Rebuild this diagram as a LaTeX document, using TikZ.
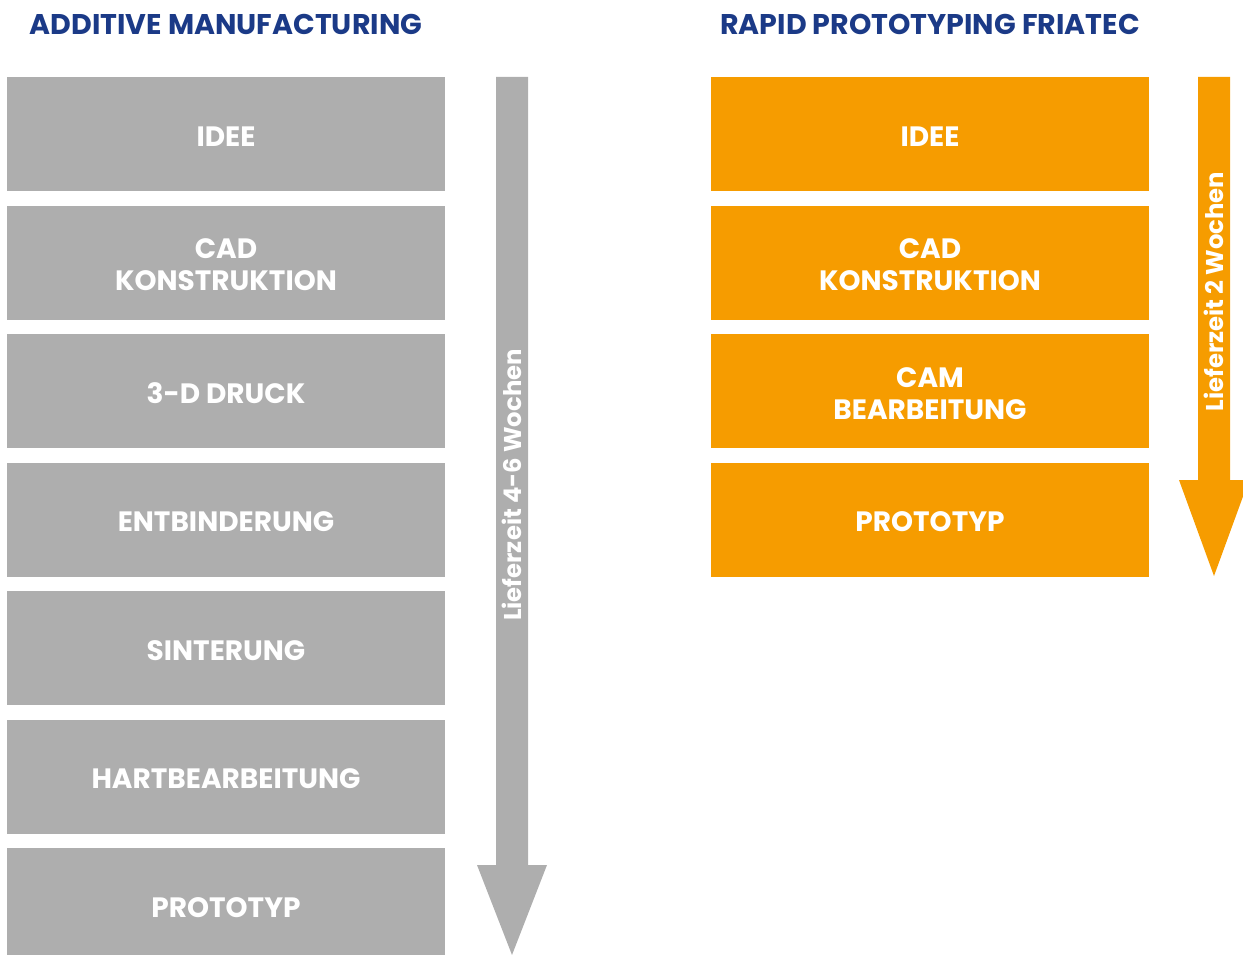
\documentclass[tikz,border=0pt]{standalone}
\usepackage{fontspec}
\setmainfont{Poppins}
\definecolor{boxgray}{HTML}{AEAEAE}
\definecolor{friorange}{HTML}{F69C00}
\definecolor{titleblue}{HTML}{1B3A87}
\begin{document}
\begin{tikzpicture}[x=1pt,y=-1pt,
  stepbox/.style={minimum width=438pt,minimum height=114pt,inner sep=0pt},
  boxtext/.style={text=white,align=center,inner sep=0pt,yshift=-2.5pt,
    font=\fontsize{28}{32}\selectfont\bfseries},
  graybox/.style={stepbox,fill=boxgray},
  orangebox/.style={stepbox,fill=friorange},
  titletext/.style={text=titleblue,font=\fontsize{28.5}{30}\selectfont\bfseries,inner sep=0pt},
  arrowtext/.style={text=white,rotate=90,inner sep=0pt,font=\fontsize{24.3}{26}\selectfont\bfseries}]
\useasboundingbox (0,0) rectangle (1243,955);
\clip (0,0) rectangle (1243,955);
% titles
\node[titletext] (t1) at (226,24) {ADDITIVE MANUFACTURING};
\node[titletext] (t2) at (930,24) {RAPID PROTOTYPING FRIATEC};
% left column
\node[graybox,label={[boxtext]center:IDEE}] (l1) at (226,134) {};
\node[graybox,label={[boxtext]center:{CAD\\KONSTRUKTION}}] (l2) at (226,262.5) {};
\node[graybox,label={[boxtext]center:3-D DRUCK}] (l3) at (226,391) {};
\node[graybox,label={[boxtext]center:ENTBINDERUNG}] (l4) at (226,519.5) {};
\node[graybox,label={[boxtext]center:SINTERUNG}] (l5) at (226,648) {};
\node[graybox,label={[boxtext]center:HARTBEARBEITUNG}] (l6) at (226,776.5) {};
\node[graybox,label={[boxtext]center:PROTOTYP}] (l7) at (226,905) {};
% right column
\node[orangebox,label={[boxtext]center:IDEE}] (r1) at (930,134) {};
\node[orangebox,label={[boxtext]center:{CAD\\KONSTRUKTION}}] (r2) at (930,262.5) {};
\node[orangebox,label={[boxtext]center:{CAM\\BEARBEITUNG}}] (r3) at (930,391) {};
\node[orangebox,label={[boxtext]center:PROTOTYP}] (r4) at (930,519.5) {};
% left arrow
\fill[boxgray] (496,77) -- (528,77) -- (528,865) -- (547,865) -- (512,955)
  -- (477,865) -- (496,865) -- cycle;
\node[arrowtext] (la) at (512,485) {Lieferzeit 4-6 Wochen};
% right arrow
\fill[friorange] (1198,77) -- (1230,77) -- (1230,480) -- (1249,480) -- (1214,576)
  -- (1179,480) -- (1198,480) -- cycle;
\node[arrowtext] (ra) at (1214,291.5) {Lieferzeit 2 Wochen};
\end{tikzpicture}
\end{document}
